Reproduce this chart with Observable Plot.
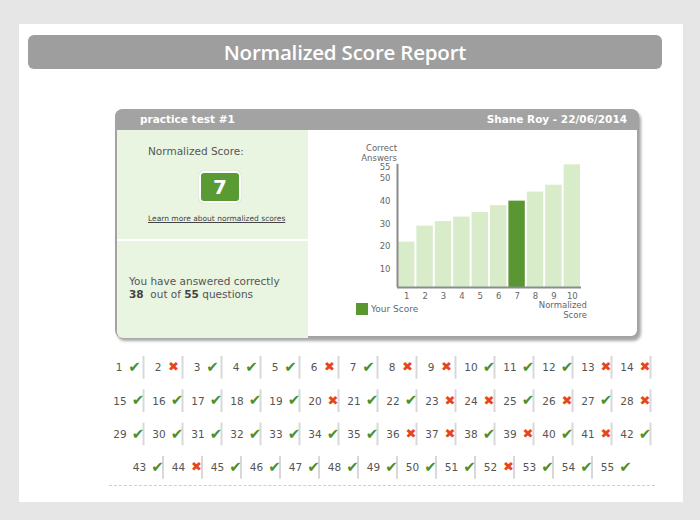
<!DOCTYPE html>
<html>
<head>
<meta charset="utf-8">
<script src="https://cdn.jsdelivr.net/npm/d3@7"></script>
<script src="https://cdn.jsdelivr.net/npm/@observablehq/plot@0.6"></script>
<style>
  html, body { margin: 0; padding: 0; }
  body { width: 700px; height: 520px; background: #e6e6e6; position: relative; overflow: hidden; font-family: "DejaVu Sans", Verdana, sans-serif; }
  .abs { position: absolute; }
  #page { left: 19px; top: 24px; width: 664px; height: 478px; background: #fff; }
  #title { left: 28px; top: 35px; width: 634px; height: 34px; background: #9e9e9e; border-radius: 6px;
           color: #fff; font-family: "Open Sans", sans-serif; font-weight: 600; font-size: 20.5px; line-height: 34px; text-align: center; letter-spacing: -0.2px; }
  #card { left: 115px; top: 109px; width: 520px; height: 227px; border: 2px solid #a3a3a3; border-top: none; border-radius: 8px;
          background: #fff; box-shadow: 2px 3px 3px rgba(0,0,0,0.35); }
  #cardhead { left: 115px; top: 109px; width: 524px; height: 21px; background: #a3a3a3; border-radius: 8px 8px 0 0; }
  .hd { color: #fff; font-weight: bold; font-size: 10.5px; top: 113px; }
  #leftTop { left: 117px; top: 130px; width: 191px; height: 109px; background: #e9f5e1; }
  #leftBot { left: 117px; top: 241px; width: 191px; height: 97px; background: #e9f5e1; border-radius: 0 0 0 6px; }
  .gray { color: #555; }
  #scorebox { left: 199px; top: 171px; width: 38px; height: 28px; background: #5a9a32; border: 2px solid #fff; border-radius: 5px;
              box-shadow: 0 0 1px #aaa; color: #fff; font-weight: bold; font-size: 20px; line-height: 28px; text-align: center; }
  #learn { left: 148px; top: 214px; font-size: 7.5px; color: #444; text-decoration: underline; }
  #answered { left: 129px; top: 275px; font-size: 10.5px; line-height: 13px; color: #555; }
  #answered b { color: #444; }
  #chart { left: 340px; top: 140px; }
  #grid { left: 100px; top: 345px; }
  .lbl { font-size: 8.5px; color: #666; line-height: 10px; }
  #dash { left: 109px; top: 485px; width: 546px; border-top: 1px dashed #cfcfcf; }
</style>
</head>
<body>
<div id="page" class="abs"></div>
<div id="title" class="abs">Normalized Score Report</div>
<div id="card" class="abs"></div>
<div id="cardhead" class="abs"></div>
<div class="abs hd" style="left:140px">practice test #1</div>
<div class="abs hd" style="right:73px">Shane Roy - 22/06/2014</div>
<div id="leftTop" class="abs"></div>
<div id="leftBot" class="abs"></div>
<div class="abs gray" style="left:148px; top:145px; font-size:10.5px;">Normalized Score:</div>
<div id="scorebox" class="abs"></div>
<div id="learn" class="abs">Learn more about normalized scores</div>
<div id="answered" class="abs"></div>
<div class="abs lbl" style="left:340px; top:143px; width:57px; text-align:right;">Correct<br>Answers</div>
<div class="abs lbl" style="left:520px; top:300px; width:67px; text-align:right;">Normalized<br>Score</div>
<div class="abs" style="left:356px; top:303px; width:12px; height:12px; background:#5a9632;"></div>
<div class="abs lbl" style="left:371px; top:304px; font-size:9px;">Your Score</div>
<div id="chart" class="abs"></div>
<div id="grid" class="abs"></div>
<div id="dash" class="abs"></div>

<script>
// ---- data ----
const normalizedScores = [1, 2, 3, 4, 5, 6, 7, 8, 9, 10];
const correctAnswers   = [22, 29, 31, 33, 35, 38, 40, 44, 47, 56];
const yourScore = 7;
const yTickLabels = [10, 20, 30, 40, 50, 55];
const correctCount = 38;
const totalQuestions = 55;
// 1 = correct, 0 = wrong, questions 1..55
const answers = [
  1,0,1,1,1,0,1,0,0,1,1,1,0,0,
  1,1,1,1,1,0,1,1,0,0,1,0,1,0,
  1,1,1,1,1,1,1,0,0,1,0,1,0,1,
  1,0,1,1,1,1,1,1,1,0,1,1,1
];
const rowLengths = [14, 14, 14, 13];
const rowOffsets = [0, 0, 0, 0.5];

document.getElementById("scorebox").textContent = yourScore;
document.getElementById("answered").innerHTML =
  "You have answered correctly<br><b>" + correctCount + "</b>&nbsp; out of <b>" + totalQuestions + "</b> questions";

// ---- bar chart ----
const bars = normalizedScores.map((s, i) => ({s, v: correctAnswers[i]}));
const yMin = 2;
const chart = Plot.plot({
  width: 260, height: 185,
  marginLeft: 57, marginRight: 19, marginTop: 22, marginBottom: 38,
  style: {fontFamily: "DejaVu Sans, Verdana, sans-serif", fontSize: "8.5px", background: "transparent"},
  x: {domain: [0.5, 10.5], axis: null},
  y: {domain: [yMin, 57], axis: null},
  marks: [
    Plot.rectY(bars, {x1: d => d.s - 0.5, x2: d => d.s + 0.5, y1: yMin, y2: "v",
      fill: d => d.s === yourScore ? "#5a9632" : "#d9ecca", insetLeft: 1, insetRight: 1}),
    Plot.ruleY([yMin], {stroke: "#8c8c8c", strokeWidth: 2}),
    Plot.ruleX([0.5], {y1: yMin, y2: 56.2, stroke: "#8c8c8c", strokeWidth: 2}),
    Plot.text(yTickLabels, {x: 0.5, y: d => d, text: d => String(d), dx: -7, textAnchor: "end", fill: "#666"}),
    Plot.text(normalizedScores, {x: d => d, y: yMin, text: d => String(d), dy: 9, fill: "#666"})
  ]
});
document.getElementById("chart").appendChild(chart);

// ---- answer grid ----
const cells = [];
let q = 0;
rowLengths.forEach((len, row) => {
  for (let col = 0; col < len; col++) {
    cells.push({n: q + 1, ok: answers[q] === 1, row, col: col + rowOffsets[row], last: q === answers.length - 1});
    q++;
  }
});
const grid = Plot.plot({
  width: 560, height: 140, margin: 0,
  style: {fontFamily: "DejaVu Sans, Verdana, sans-serif", background: "transparent"},
  x: {domain: [0, 14], range: [4, 550], axis: null},
  y: {domain: [0, 3], range: [22.3, 122.3], axis: null},
  marks: [
    Plot.ruleX(cells.filter(d => !d.last), {x: d => d.col + 1, y1: d => d.row - 0.34, y2: d => d.row + 0.34,
      stroke: "#d8d8d8", strokeWidth: 2}),
    Plot.text(cells, {x: d => d.col + (d.n < 10 ? 0.46 : 0.57), y: "row", text: d => String(d.n),
      textAnchor: "end", fill: "#555", fontSize: 10.5}),
    Plot.text(cells.filter(d => d.ok), {x: d => d.col + (d.n < 10 ? 0.77 : 0.86), y: "row", text: () => "\u2714",
      fill: "#4c8f2c", fontSize: 15, fontFamily: "DejaVu Sans", dy: -0.5}),
    Plot.text(cells.filter(d => !d.ok), {x: d => d.col + (d.n < 10 ? 0.77 : 0.86), y: "row", text: () => "\u2716",
      fill: "#e5461c", fontSize: 13, fontFamily: "DejaVu Sans", dy: -0.5})
  ]
});
document.getElementById("grid").appendChild(grid);
</script>
</body>
</html>
